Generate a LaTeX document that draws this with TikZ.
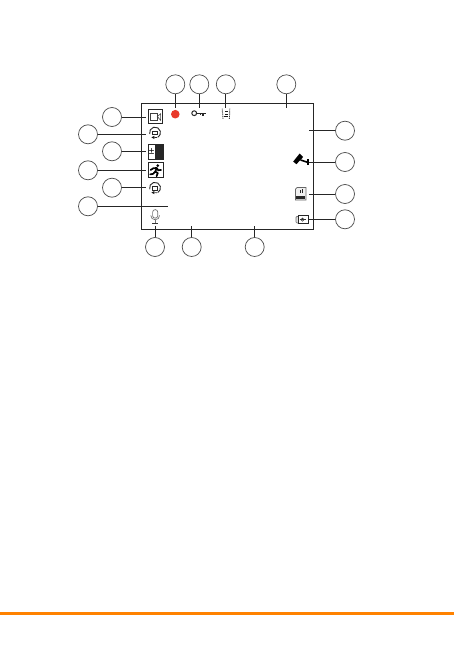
\documentclass[tikz,border=0pt]{standalone}
\usepackage{fontspec}
\setmainfont{Liberation Sans}
\tikzset{
  x=1bp,y=-1bp,
  callout/.style={circle,draw=black!70,line width=0.7bp,minimum size=19bp,inner sep=0pt},
  lead/.style={draw=black!85,line width=0.9bp},
  frameline/.style={draw=black!85,line width=0.9bp},
  iconbox/.style={draw=black!85,line width=0.8bp},
  thinicon/.style={draw=black!75,line width=0.6bp},
  rotateicon/.pic={
    \draw[black!85,line width=0.9bp] (165:5.5) arc[start angle=165,end angle=420,radius=5.5];
    \draw[black!85,line width=0.7bp,fill=white] (-2.6,-1.2) rectangle (2.4,2.2);
    \fill[black!90] (-3.6,4.8) -- (-0.6,3.2) -- (-0.6,6.4) -- cycle;
    \draw[black!85,line width=0.7bp] (-0.6,4.8) -- (1.8,4.9);
  }
}
\definecolor{recred}{HTML}{E8392A}
\definecolor{barorange}{HTML}{FF8200}
\begin{document}
\begin{tikzpicture}
\useasboundingbox (0,0) rectangle (454,652);
\fill[white] (0,0) rectangle (454,652);
% frame
\path[frameline] (141.7,103.3) rectangle (313.3,229.3);
% callouts
\node[callout] (t1) at (175.3,84.3) {};
\node[callout] (t2) at (199.3,84.3) {};
\node[callout] (t3) at (225.8,84.3) {};
\node[callout] (t4) at (286.3,84.3) {};
\node[callout] (r1) at (345,130.7) {};
\node[callout] (r2) at (345,162) {};
\node[callout] (r3) at (345,194) {};
\node[callout] (r4) at (345,219.3) {};
\node[callout] (l1) at (112,117) {};
\node[callout] (l2) at (88,134.3) {};
\node[callout] (l3) at (112,151.3) {};
\node[callout] (l4) at (88,170.3) {};
\node[callout] (l5) at (112,187.7) {};
\node[callout] (l6) at (88,206.3) {};
\node[callout] (b1) at (155,247) {};
\node[callout] (b2) at (191.7,247) {};
\node[callout] (b3) at (254.7,247) {};
% lead ends
\coordinate (et1) at (175.3,107.8);
\coordinate (et2) at (199.3,108);
\coordinate (et3) at (225.8,108);
\coordinate (et4) at (286.3,107.8);
\coordinate (er1) at (309,130.7);
\coordinate (er2) at (309,162);
\coordinate (er3) at (309,194);
\coordinate (er4) at (309,219.3);
\coordinate (el1) at (146,117);
\coordinate (el2) at (146,134.3);
\coordinate (el3) at (146,151.3);
\coordinate (el4) at (146,170.3);
\coordinate (el5) at (146,187.7);
\coordinate (el6) at (167.7,206.3);
\coordinate (eb1) at (155,225.5);
\coordinate (eb2) at (191.7,225.5);
\coordinate (eb3) at (254.7,225.5);
\path[lead] (t1) -- (et1) (t2) -- (et2) (t3) -- (et3) (t4) -- (et4);
\path[lead] (r1) -- (er1) (r2) -- (er2) (r3) -- (er3) (r4) -- (er4);
\path[lead] (l1) -- (el1) (l2) -- (el2) (l3) -- (el3) (l4) -- (el4) (l5) -- (el5) (l6) -- (el6);
\path[lead] (b1) -- (eb1) (b2) -- (eb2) (b3) -- (eb3);
% camera-mode icon
\draw[iconbox] (148.3,109.3) rectangle (162.3,123.3);
\draw[thinicon] (150.4,113.8) rectangle (157.3,120.3);
\draw[thinicon] (157.3,116.5) -- (160.6,113.8) -- (160.6,120.3) -- cycle;
% rotate icons
\pic at (155,132.6) {rotateicon};
\pic at (155,187.8) {rotateicon};
% battery-like box
\fill[black!85] (155,144.3) rectangle (163.7,159.8);
\draw[iconbox] (148.3,144.3) rectangle (163.7,159.8);
\node[inner sep=0pt,font=\fontsize{10}{10}\selectfont] (pm) at (151.6,152) {±};
% runner box
\draw[iconbox] (148.3,162.3) rectangle (163.7,177.7);
\fill[black] (157.8,165.6) circle (1.5);
\draw[black,line width=1.7bp,line cap=round,line join=round]
  (150.6,170) -- (153.4,168.2) -- (156.8,168) -- (155.2,171.6) -- (157.8,173) -- (156.6,176.2)
  (155.2,171.6) -- (153.2,173.8) -- (150.2,174.4)
  (156.8,168) -- (158.2,170.2) -- (161,170);
% mic
\draw[black!55,line width=0.7bp] (152.6,212.2) arc[start angle=180,end angle=360,radius=2.6] -- (157.8,215.6) arc[start angle=0,end angle=180,radius=2.6] -- cycle;
\draw[black!55,line width=0.7bp] (150.8,215.4) arc[start angle=180,end angle=0,radius=4.4];
\draw[black!55,line width=0.7bp] (155.2,219.8) -- (155.2,222.6);
\draw[black!80,line width=1bp] (152.4,223.2) -- (158,223.2);
% record dot
\fill[recred] (175.3,114.2) circle (4.3);
% key
\draw[black!85,line width=1bp] (194.2,113.2) circle (2.4);
\draw[black!85,line width=1.1bp] (196.6,113.2) -- (205.5,113.2);
\draw[black!85,line width=1.1bp] (200.8,113.2) -- (200.8,115.4) (203,113.2) -- (203,115.8);
% stacked signal icon
\draw[black!75,line width=0.9bp,dash pattern=on 1.1bp off 0.8bp] (222.2,108.6) -- (223,118.8);
\draw[black!75,line width=0.9bp,dash pattern=on 1.1bp off 0.8bp] (229.8,108.6) -- (229.4,118.8);
\draw[black!90,line width=1.1bp] (224.8,111.8) -- (228.4,111.8) (224.8,114.2) -- (228.4,114.2) (224.4,116.6) -- (228.4,116.6);
% surveillance camera
\fill[black] (293.2,161.6) -- (299.6,153.6) -- (303.2,157) -- (296.4,164.2) -- cycle;
\draw[black,line width=1.6bp] (300.5,160) -- (308,162.4);
\draw[black,line width=1.7bp] (308,159.4) -- (308,165.4);
% sd card
\draw[black!60,line width=0.7bp,fill=black!6] (297,187.5) -- (306,187.5) -- (306,200) -- (295.5,200) -- (295.5,189) -- cycle;
\fill[black!85] (296.3,196.4) rectangle (305.3,199.4);
\draw[black!85,line width=0.6bp] (300.4,190) -- (300.4,193.2) (302.4,189.4) -- (302.4,193.2);
% drive icon
\draw[black!55,line width=0.7bp,fill=black!12,rounded corners=1bp] (296,216.4) rectangle (301,223);
\draw[black!85,line width=0.7bp,fill=white] (298.2,215.8) rectangle (308,223.6);
\draw[black!80,line width=0.6bp] (299.6,219.7) -- (306,219.7);
\draw[black!80,line width=0.6bp] (302.5,219.7) circle (1.6);
% bottom rule
\fill[barorange] (0,611.8) rectangle (454,614.8);
\end{tikzpicture}
\end{document}
